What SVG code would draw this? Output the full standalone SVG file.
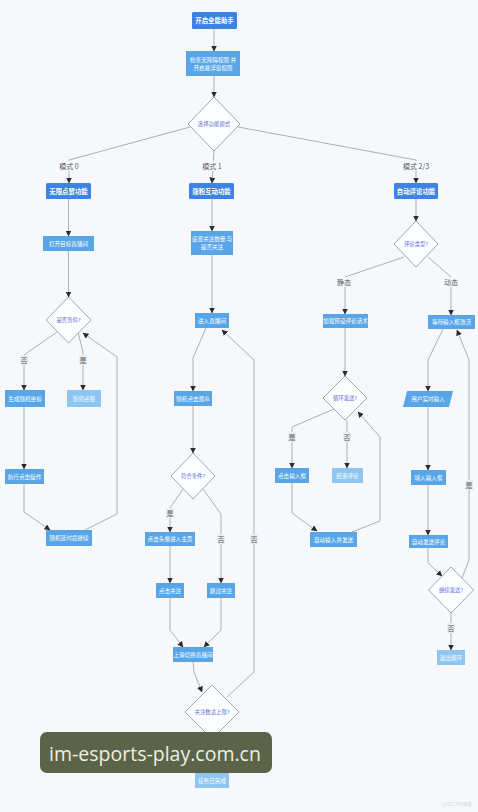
<svg xmlns="http://www.w3.org/2000/svg" width="478" height="812" viewBox="0 0 478 812">
<defs>
<marker id="arr" markerWidth="6" markerHeight="6" refX="5.5" refY="3" orient="auto" markerUnits="userSpaceOnUse">
<path d="M0,0 L6,3 L0,6 z" fill="#2b2b2b"/>
</marker>
<style>
.bg{fill:#f6f8fb}
.dk{fill:#3d83e3}
.nd{fill:#58a6e8}
.lt{fill:#8ec6f2}
.dm{fill:#fdfeff;stroke:#9ea7b0;stroke-width:1}
.t{font-family:"Noto Sans CJK SC","Noto Sans",sans-serif;text-anchor:middle;dominant-baseline:central}
.tw{fill:#ffffff;font-size:5.6px}
.tb{fill:#ffffff;font-size:6.4px;font-weight:bold}
.td{fill:#6270d6;font-size:5.4px}
.tl{fill:#555b62;font-size:7px}
.lb{fill:#f6f8fb}
.lg{fill:#eceef1}
.e{fill:none;stroke:#a9b1b9;stroke-width:1;marker-end:url(#arr)}
</style>
</defs>
<rect class="bg" x="0" y="0" width="478" height="812"/>

<g id="connectors">
<path class="e" d="M214,29 L214,51"/>
<path class="e" d="M214,76 L214,97"/>
<path class="e" d="M190,127 L69,160 L69,183"/>
<path class="e" d="M214,151 L212,183"/>
<path class="e" d="M238,127 L416,160 L416,183"/>
<path class="e" d="M68.5,199 L68.5,236"/>
<path class="e" d="M68.5,251 L68.5,297"/>
<path class="e" d="M57,332 L24,355 L24,390"/>
<path class="e" d="M78,332 L83,352 L83,390"/>
<path class="e" d="M24,407 L24,469"/>
<path class="e" d="M24,484 L24,512 L50,530"/>
<path class="e" d="M85,530 L117,514 L117,357 L83,333"/>
<path class="e" d="M212,199 L212,231"/>
<path class="e" d="M212,255 L212,313"/>
<path class="e" d="M206,328 L193,358 L193,391"/>
<path class="e" d="M193,406 L193,453"/>
<path class="e" d="M183,489 L170,508 L170,532"/>
<path class="e" d="M203,489 L221,514 L221,583"/>
<path class="e" d="M170,546 L170,583"/>
<path class="e" d="M170,598 L170,630 L183,647"/>
<path class="e" d="M221,598 L221,630 L204,647"/>
<path class="e" d="M193,662 L194,672 L202,692"/>
<path class="e" d="M227,697 L254,672 L254,360 L222,330"/>
<path class="e" d="M212,739 L212,773"/>
<path class="e" d="M416,199 L416,221"/>
<path class="e" d="M404,257 L345,277 L345,314"/>
<path class="e" d="M428,257 L451,277 L451,315"/>
<path class="e" d="M345,328 L345,376"/>
<path class="e" d="M334,409 L292,427 L292,468"/>
<path class="e" d="M347,420 L347,468"/>
<path class="e" d="M292,483 L292,513 L317,531"/>
<path class="e" d="M352,532 L380,521 L380,437 L358,412"/>
<path class="e" d="M443,329 L428,360 L428,391"/>
<path class="e" d="M428,407 L428,470"/>
<path class="e" d="M428,485 L428,535"/>
<path class="e" d="M428,548 L428,563 L442,576"/>
<path class="e" d="M462,578 L469,560 L469,360 L457,330"/>
<path class="e" d="M451,613 L451,650"/>
</g>

<g id="edge-labels">
<rect class="lb" x="57" y="161" width="24" height="10"/><text class="t tl" x="69" y="166">模式 0</text>
<rect class="lb" x="200" y="161" width="24" height="10"/><text class="t tl" x="212" y="166">模式 1</text>
<rect class="lb" x="401" y="161" width="30" height="10"/><text class="t tl" x="416" y="166">模式 2/3</text>
<rect class="lg" x="20" y="355" width="8" height="10"/><text class="t tl" x="24" y="360">否</text>
<rect class="lg" x="79" y="355" width="8" height="10"/><text class="t tl" x="83" y="360">是</text>
<rect class="lg" x="166" y="508" width="8" height="10"/><text class="t tl" x="170" y="513">是</text>
<rect class="lg" x="217" y="534" width="8" height="10"/><text class="t tl" x="221" y="539">否</text>
<rect class="lg" x="250" y="534" width="8" height="10"/><text class="t tl" x="254" y="539">否</text>
<rect class="lb" x="337" y="277" width="15" height="10"/><text class="t tl" x="344" y="282">静态</text>
<rect class="lb" x="444" y="277" width="15" height="10"/><text class="t tl" x="451" y="282">动态</text>
<rect class="lg" x="288" y="432" width="8" height="10"/><text class="t tl" x="292" y="437">是</text>
<rect class="lg" x="343" y="432" width="8" height="10"/><text class="t tl" x="347" y="437">否</text>
<rect class="lg" x="465" y="480" width="8" height="10"/><text class="t tl" x="469" y="485">是</text>
<rect class="lg" x="447" y="623" width="8" height="10"/><text class="t tl" x="451" y="628">否</text>
</g>

<g id="n-start"><rect class="dk" x="192" y="12" width="45" height="17" rx="1.5"/><text class="t tb" x="214.5" y="20.5">开启全能助手</text></g>
<g id="n-perm"><rect class="nd" x="186" y="51" width="54" height="25"/><text class="t tw" x="213" y="59.5">检查无障碍权限 并</text><text class="t tw" x="213" y="67.5">开启悬浮窗权限</text></g>
<g id="d-mode"><polygon class="dm" points="214,97 240,124 214,151 188,124"/><text class="t td" x="214" y="124">选择功能模式</text></g>

<g id="n-like"><rect class="dk" x="46" y="183" width="45" height="16" rx="1.5"/><text class="t tb" x="68.5" y="191">无限点赞功能</text></g>
<g id="n-open"><rect class="nd" x="43" y="236" width="51" height="15"/><text class="t tw" x="68.5" y="243.5">打开目标直播间</text></g>
<g id="d-pause"><polygon class="dm" points="68.5,297 91,320 68.5,343 46,320"/><text class="t td" x="68.5" y="320">是否暂停?</text></g>
<g id="n-rand"><rect class="nd" x="5" y="390" width="40" height="17"/><text class="t tw" x="25" y="398.5">生成随机坐标</text></g>
<g id="n-stop"><rect class="lt" x="67" y="390" width="34" height="17"/><text class="t tw" x="84" y="398.5">暂停点赞</text></g>
<g id="n-click"><rect class="nd" x="5" y="469" width="39" height="15"/><text class="t tw" x="24.5" y="476.5">执行点击操作</text></g>
<g id="n-delay"><rect class="nd" x="46" y="530" width="46" height="16"/><text class="t tw" x="69" y="538">随机延时后继续</text></g>

<g id="n-fans"><rect class="dk" x="189" y="183" width="45" height="16" rx="1.5"/><text class="t tb" x="211.5" y="191">涨粉互动功能</text></g>
<g id="n-set"><rect class="nd" x="191" y="231" width="42" height="24"/><text class="t tw" x="212" y="239">设置关注数量 与</text><text class="t tw" x="212" y="247">是否关注</text></g>
<g id="n-room"><rect class="nd" x="195" y="313" width="34" height="15"/><text class="t tw" x="212" y="320.5">进入直播间</text></g>
<g id="n-viewer"><rect class="nd" x="174" y="391" width="38" height="15"/><text class="t tw" x="193" y="398.5">随机点击观众</text></g>
<g id="d-cond"><polygon class="dm" points="193,453 215,476 193,499 171,476"/><text class="t td" x="193" y="476">符合条件?</text></g>
<g id="n-home"><rect class="nd" x="145" y="532" width="50" height="14"/><text class="t tw" x="170" y="539">点击头像进入主页</text></g>
<g id="n-follow"><rect class="nd" x="156" y="583" width="28" height="15"/><text class="t tw" x="170" y="590.5">点击关注</text></g>
<g id="n-skip"><rect class="nd" x="207" y="583" width="28" height="15"/><text class="t tw" x="221" y="590.5">跳过关注</text></g>
<g id="n-swipe"><rect class="nd" x="173" y="647" width="40" height="15"/><text class="t tw" x="193" y="654.5">上滑切换直播间</text></g>
<g id="d-limit"><polygon class="dm" points="212,685 239,712 212,739 185,712"/><text class="t td" x="212" y="712">关注数达上限?</text></g>
<g id="n-end"><rect class="lt" x="195" y="773" width="34" height="15"/><text class="t tw" x="212" y="780.5">任务已完成</text></g>

<g id="n-comment"><rect class="dk" x="394" y="183" width="44" height="16" rx="1.5"/><text class="t tb" x="416" y="191">自动评论功能</text></g>
<g id="d-type"><polygon class="dm" points="416,221 438,244 416,267 394,244"/><text class="t td" x="416" y="244">评论类型?</text></g>
<g id="n-load"><rect class="nd" x="323" y="314" width="45" height="14"/><text class="t tw" x="345.5" y="321">加载预设评论话术</text></g>
<g id="d-loop"><polygon class="dm" points="345,376 367,398 345,420 323,398"/><text class="t td" x="345" y="398">循环发送?</text></g>
<g id="n-input1"><rect class="nd" x="275" y="468" width="34" height="15"/><text class="t tw" x="292" y="475.5">点击输入框</text></g>
<g id="n-stop2"><rect class="lt" x="332" y="468" width="31" height="15"/><text class="t tw" x="347.5" y="475.5">结束评论</text></g>
<g id="n-send1"><rect class="nd" x="310" y="532" width="47" height="15"/><text class="t tw" x="333.5" y="539.5">自动输入并发送</text></g>
<g id="n-wait"><rect class="nd" x="428" y="315" width="47" height="14"/><text class="t tw" x="451.5" y="322">等待输入框激活</text></g>
<g id="n-user"><polygon class="nd" points="407,391 453,391 449,407 403,407"/><text class="t tw" x="428" y="399">用户实时输入</text></g>
<g id="n-input2"><rect class="nd" x="411" y="470" width="35" height="15"/><text class="t tw" x="428.5" y="477.5">填入输入框</text></g>
<g id="n-send2"><rect class="nd" x="409" y="535" width="39" height="13"/><text class="t tw" x="428.5" y="541.5">自动发送评论</text></g>
<g id="d-cont"><polygon class="dm" points="451,567 473.5,590 451,613 428.5,590"/><text class="t td" x="451" y="590">继续发送?</text></g>
<g id="n-exit"><rect class="lt" x="437" y="650" width="28" height="15"/><text class="t tw" x="451" y="657.5">退出循环</text></g>

<g id="watermark">
<rect x="40" y="732" width="232" height="41" rx="7" fill="#5b6448"/>
<text x="155" y="753" font-family="'Open Sans','Noto Sans',sans-serif" font-size="19.5" fill="#eef0e2" text-anchor="middle" dominant-baseline="central">im-esports-play.com.cn</text>
<text x="472" y="806" font-family="'Noto Sans CJK SC',sans-serif" font-size="5" fill="#d4d8dc" text-anchor="end">@51CTO博客</text>
</g>
</svg>
